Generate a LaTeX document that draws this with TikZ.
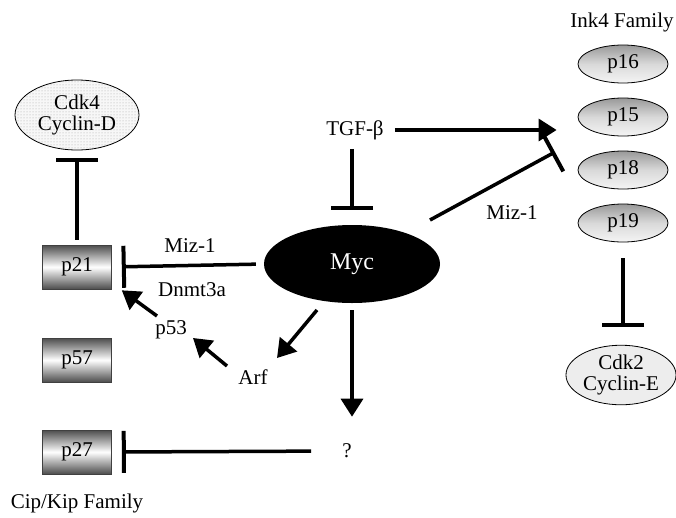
\documentclass[tikz,border=0pt]{standalone}
\usepackage{fontspec}
\setmainfont{Liberation Serif}
\usetikzlibrary{arrows.meta,shapes.geometric,patterns}
\begin{document}
\begin{tikzpicture}[x=1pt,y=-1pt,
  every node/.style={font=\fontsize{21}{24}\selectfont, inner sep=1pt},
  inkell/.style={ellipse, draw=black, line width=0.8pt, minimum width=90pt, minimum height=38pt,
    top color=gray!80, bottom color=gray!8, middle color=gray!30},
  pbox/.style={rectangle, draw=gray!50!black, line width=0.6pt, minimum width=69pt, minimum height=44pt,
    top color=gray!60!black, bottom color=gray!60!black, middle color=white},
  act/.style={line width=3.5pt, -{Triangle[length=18pt,width=22pt]}},
  inh/.style={line width=3.5pt, -{Bar[width=42pt,line width=4pt]}}
]
\useasboundingbox (0,0) rectangle (676,517);

% Cdk4 / Cyclin-D
\node[ellipse, draw=black, line width=0.8pt, minimum width=124pt, minimum height=70pt,
  preaction={fill=gray!6}, pattern=dots, pattern color=gray!70, align=center]
  (cdk4) at (77,115) {Cdk4\\[-3pt]Cyclin-D};

% Cip/Kip boxes
\node[pbox] (p21) at (77,267) {p21};
\node[pbox] (p57) at (77,360) {p57};
\node[pbox] (p27) at (77,452) {p27};
\node (cip) at (77,503) {Cip/Kip Family};

% Ink4 family
\node (ink) at (622,22) {Ink4 Family};
\node[inkell] (p16) at (623,64) {p16};
\node[inkell] (p15) at (623,117) {p15};
\node[inkell] (p18) at (623,170) {p18};
\node[inkell] (p19) at (623,223) {p19};

% Cdk2 / Cyclin-E
\node[ellipse, draw=black, line width=0.8pt, minimum width=108pt, minimum height=54pt,
  fill=gray!14, align=center] (cdk2) at (621,375) {Cdk2\\[-3pt]Cyclin-E};

% Myc
\node[ellipse, fill=black, minimum width=176pt, minimum height=78pt, text=white,
  font=\fontsize{24}{26}\selectfont] (myc) at (352,264) {Myc};

% Text nodes
\node (tgf) at (355,130) {TGF-β};
\node (p53) at (171,330) {p53};
\node (arf) at (253,377) {Arf};
\node (q) at (347,451) {?};
\node (miza) at (190,246) {Miz-1};
\node (dnmt) at (192,290) {Dnmt3a};
\node (mizb) at (512,213) {Miz-1};

\coordinate (mizs) at (430,220);
\coordinate (mize) at (555,152);

% Connectors
\draw[inh, shorten <=5pt, shorten >=8pt] (p21.north) -- (p21.north |- cdk4.south);
\draw[inh, shorten <=8pt, shorten >=10pt] (myc.west) -- (p21.east);
\draw[inh, shorten <=8pt, shorten >=15pt] (tgf.south -| myc.north) -- (myc.north);
\draw[act, shorten <=10pt, shorten >=21pt] (tgf.east) -- (tgf.east -| p15.west);
\draw[inh] (mizs) -- (mize);
\draw[inh, shorten <=16pt, shorten >=18pt] (p19.south) -- (p19.south |- cdk2.north);
\draw[act] ([shift={(-14,-14)}]p53.center) -- ([shift={(10,1)}]p21.south east);
\draw[act] ([shift={(-26,-11)}]arf.center) -- ([shift={(22,8)}]p53.center);
\draw[act] ([shift={(-35,46)}]myc.center) -- ([shift={(24,-19)}]arf.center);
\draw[act, shorten <=7pt, shorten >=26pt] (myc.south) -- (myc.south |- q.north);
\draw[inh, shorten <=30pt, shorten >=10pt] (q.west) -- (p27.east);
\end{tikzpicture}
\end{document}
